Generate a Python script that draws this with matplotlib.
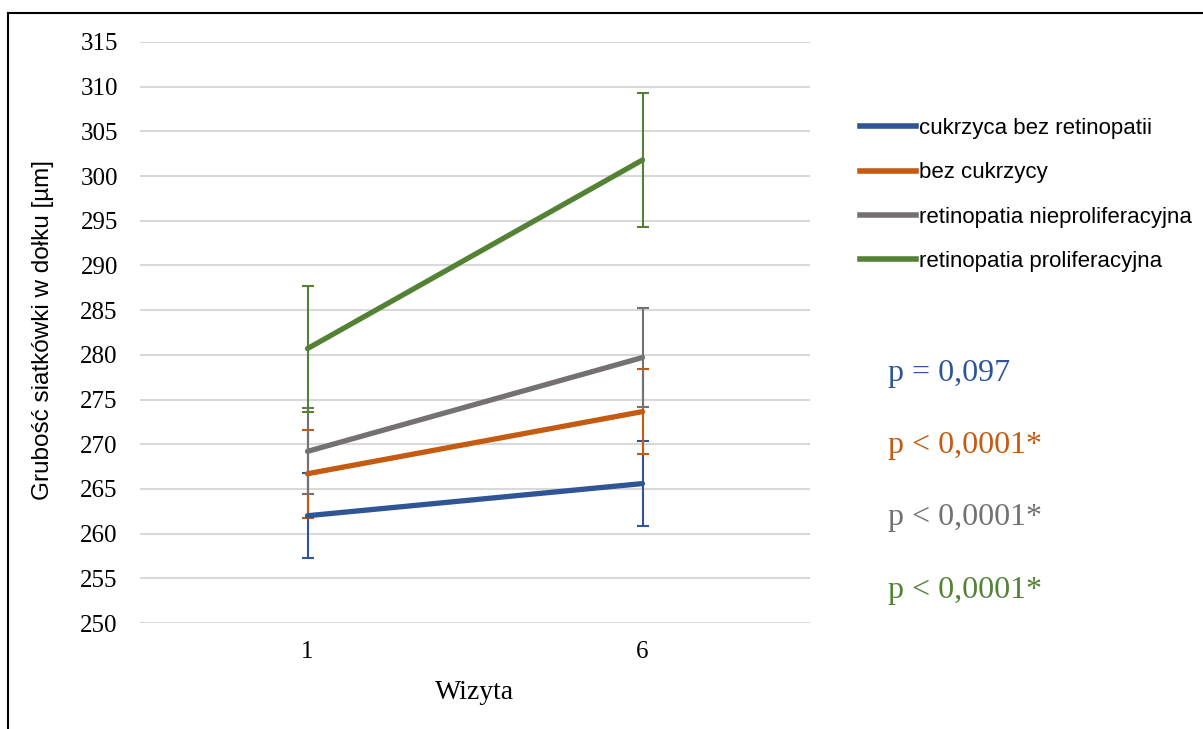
import numpy as np
import matplotlib.pyplot as plt
from matplotlib.lines import Line2D

visits = ['1', '6']
series = ['cukrzyca bez retinopatii', 'bez cukrzycy',
          'retinopatia nieproliferacyjna', 'retinopatia proliferacyjna']
means = [
    [262.0, 265.6],
    [266.7, 273.65],
    [269.2, 279.7],
    [280.7, 301.8],
]
errs = [
    [4.75, 4.75],
    [4.9, 4.75],
    [4.8, 5.5],
    [7.05, 7.45],
]
pvals = ['p = 0,097', 'p < 0,0001*', 'p < 0,0001*', 'p < 0,0001*']
colors = ['#2F5597', '#C55A11', '#767171', '#548235']

fig = plt.figure(figsize=(12.03, 7.29), dpi=100)
ax = fig.add_axes([140/1203, 106/729, 670/1203, 581/729])

x = np.arange(len(visits))
for m, e, c in zip(means, errs, colors):
    ax.errorbar(x, m, yerr=e, color=c, lw=0, elinewidth=1.5,
                capsize=4.5, capthick=1.5, zorder=3)
for m, c in zip(means, colors):
    ax.plot(x, m, color=c, lw=3.8, solid_capstyle='round', zorder=4)

ax.set_xlim(-0.5, 1.5)
ax.set_ylim(250, 315)
ax.set_yticks(np.arange(250, 316, 5))
ax.set_xticks(x)
ax.set_xticklabels(visits)
ax.grid(axis='y', color='#D9D9D9', lw=1.5)
ax.set_axisbelow(True)
for s in ax.spines.values():
    s.set_visible(False)
ax.tick_params(length=0, labelsize=18)
for lab in ax.get_xticklabels() + ax.get_yticklabels():
    lab.set_family('Liberation Serif')
ax.tick_params(axis='x', pad=13)
ax.tick_params(axis='y', pad=16)

ax.set_xlabel('Wizyta', family='Liberation Serif', fontsize=20, labelpad=12)
fig.text(43/1203, 1 - 330/729, 'Grubość siatkówki w dołku [µm]', rotation=90,
         ha='center', va='center', fontsize=17.5, family='Liberation Sans')

handles = [Line2D([0], [0], color=c, lw=4) for c in colors]
fig.legend(handles, series, loc='upper left', bbox_to_anchor=(860/1203, 1 - 118/729),
           frameon=False, handlelength=2.5, handletextpad=0.15, borderpad=0,
           borderaxespad=0, labelspacing=1.05,
           prop={'family': 'Liberation Sans', 'size': 16})

for i, (p, c) in enumerate(zip(pvals, colors)):
    fig.text(888/1203, 1 - (373 + 72.5*i)/729, p, color=c, fontsize=23,
             family='Liberation Serif', va='center', ha='left')

fig.add_artist(Line2D([8/1203, 8/1203], [0, 1 - 13/729], color='black', lw=1.5))
fig.add_artist(Line2D([8/1203, 1], [1 - 13/729, 1 - 13/729], color='black', lw=1.5))

fig.savefig('out.png', dpi=100)
